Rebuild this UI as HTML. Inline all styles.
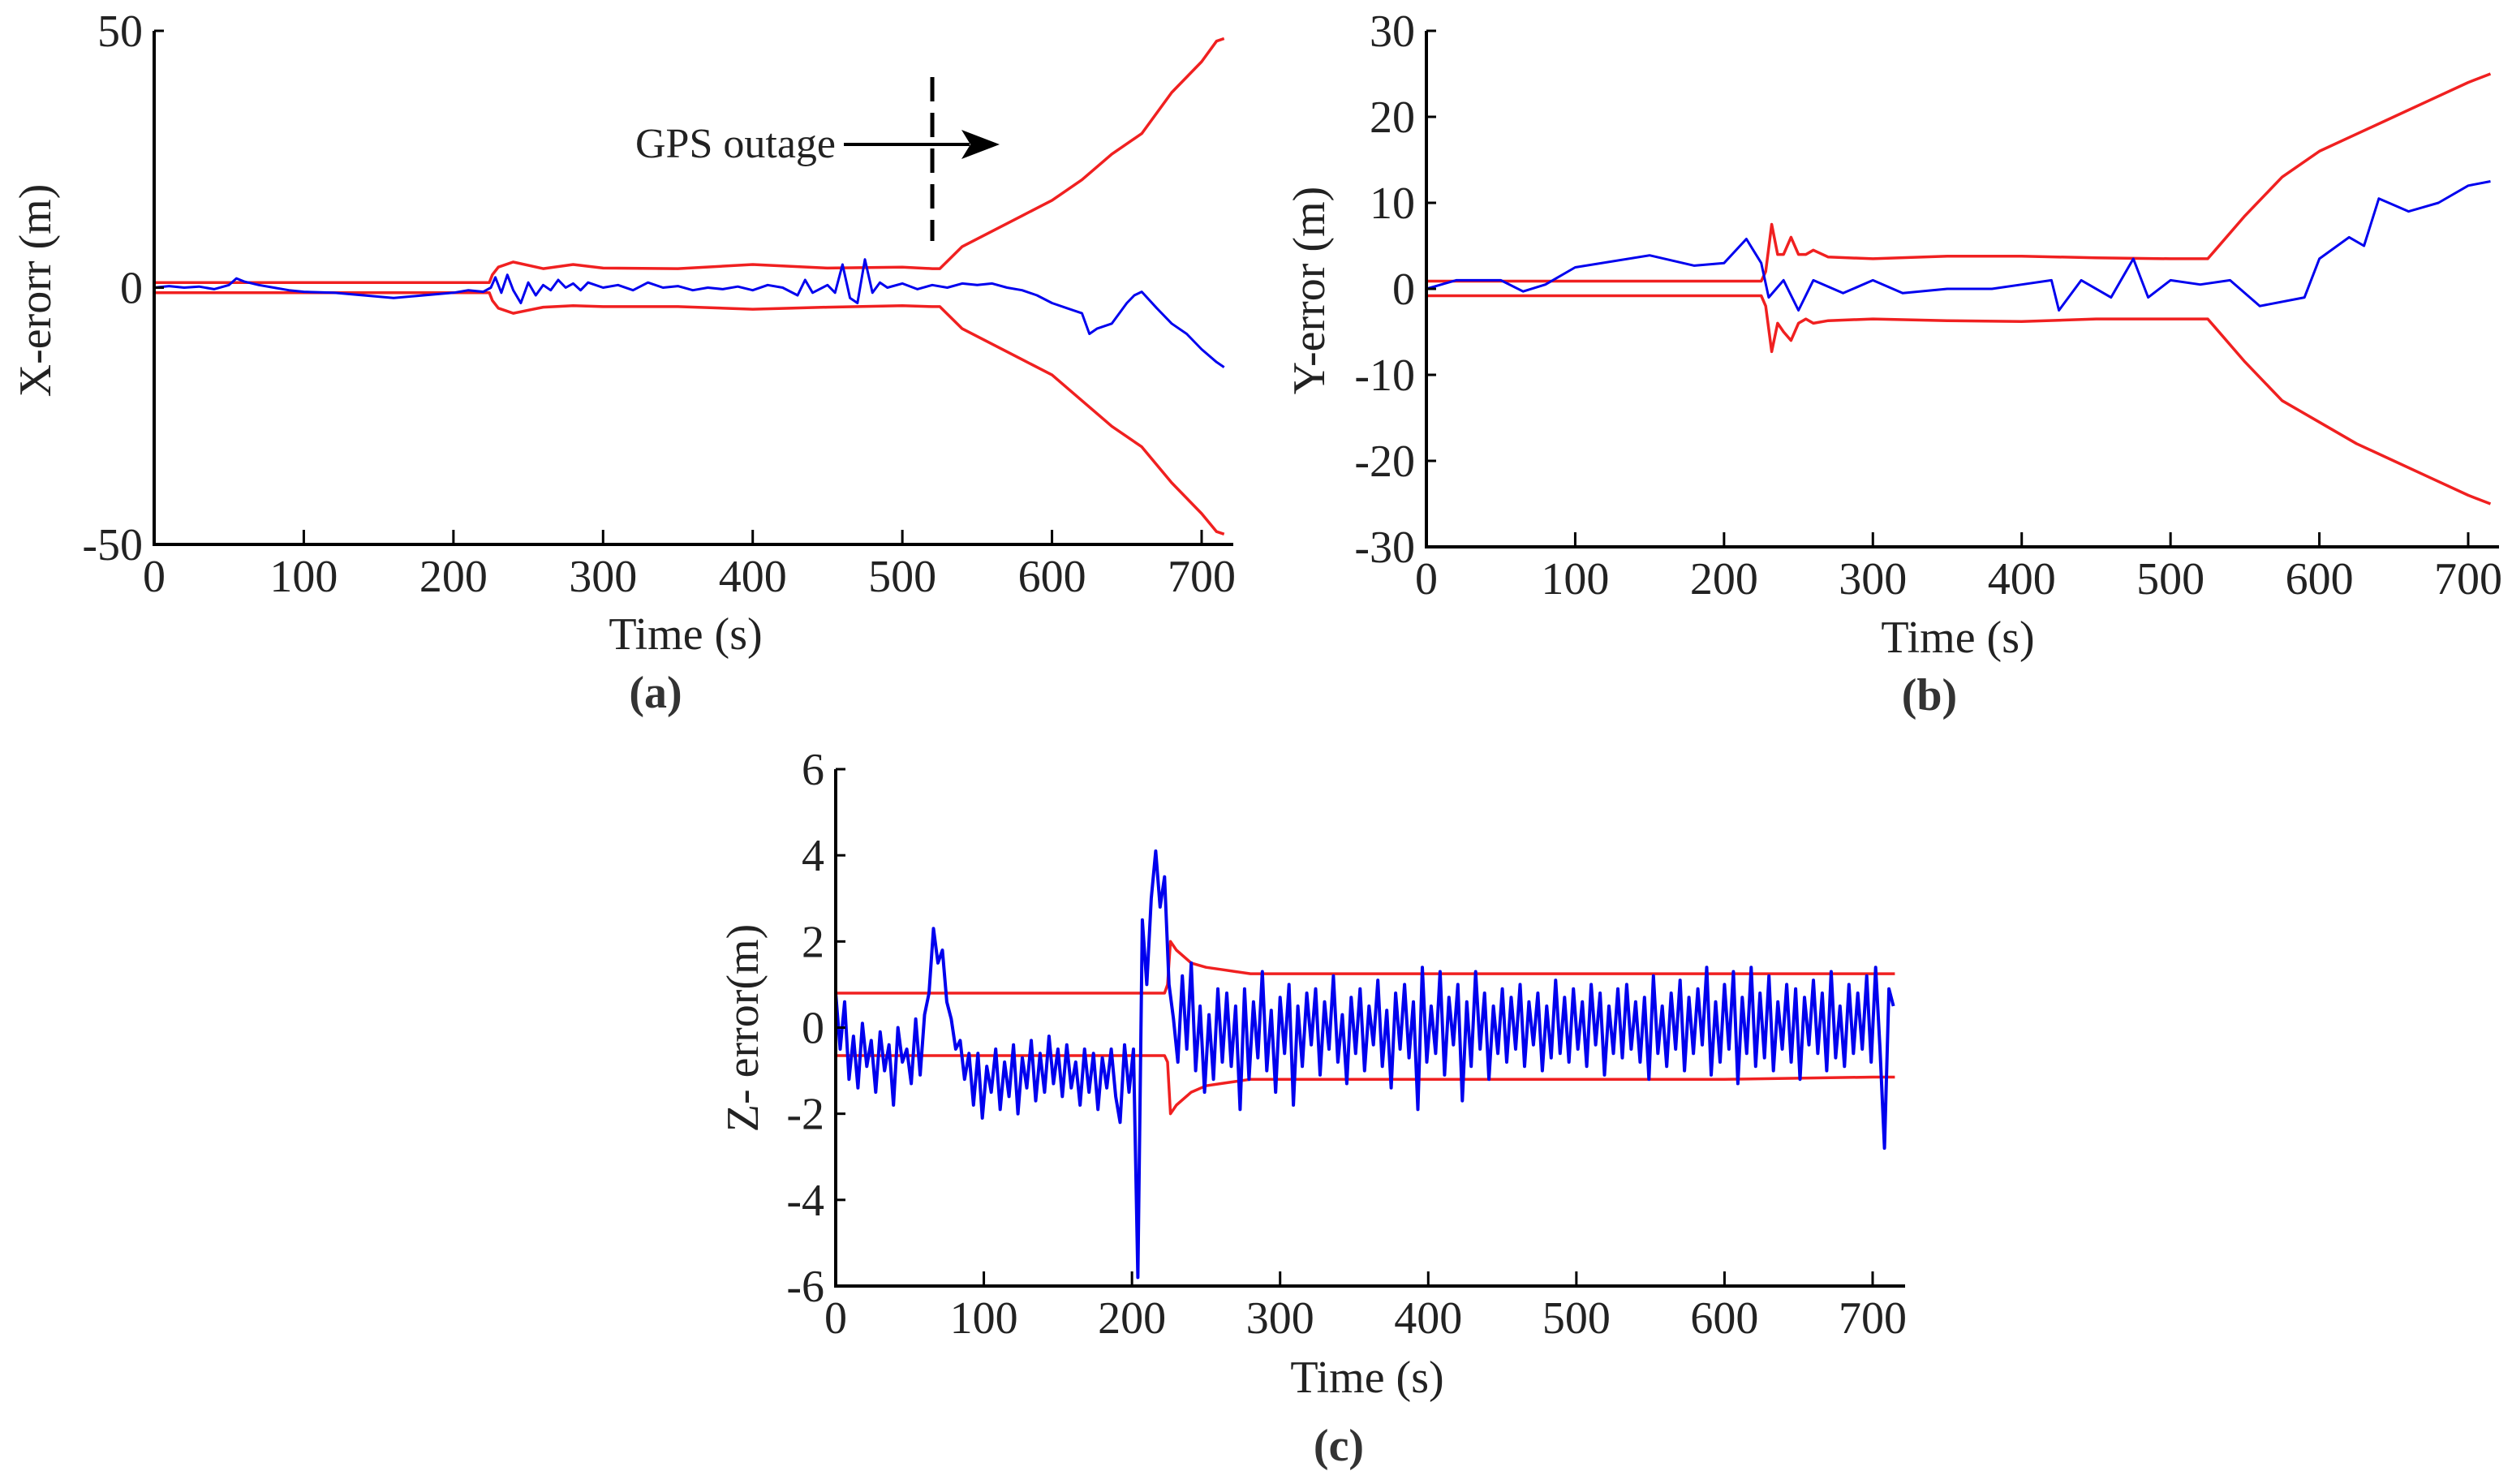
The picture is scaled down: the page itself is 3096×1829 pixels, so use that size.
<!DOCTYPE html>
<html><head><meta charset="utf-8"><style>
html,body{margin:0;padding:0;background:#fff;}
svg{display:block;font-family:"Liberation Serif",serif;}
</style></head><body>
<svg id="fig" width="3096" height="1829" viewBox="0 0 3096 1829" xmlns="http://www.w3.org/2000/svg"></svg>
<script>
// ---- Panel (a) X error ----
const aBlueT=[0,10,20,30,40,50,55,60,70,80,90,100,120,140,160,180,200,210,220,225,228,232,236,240,245,250,255,260,265,270,275,280,285,290,300,310,320,330,340,350,360,370,380,390,400,410,420,430,435,440,450,455,460,465,470,475,480,485,490,500,510,520,530,540,550,560,570,580,590,600,610,620,625,630,640,650,655,660,670,680,690,700,710,715];
const aBlue=[0,0.3,0,0.2,-0.3,0.5,1.8,1.2,0.5,0,-0.5,-0.8,-1,-1.5,-2,-1.5,-1,-0.5,-0.8,0,2,-1,2.5,-0.5,-3,1,-1.5,0.5,-0.5,1.5,0,0.8,-0.5,1,0,0.5,-0.5,1,0,0.3,-0.5,0,-0.3,0.2,-0.5,0.5,0,-1.5,1.5,-1,0.5,-1,4.5,-2,-3,5.5,-1,1,0,0.8,-0.3,0.5,0,0.8,0.5,0.8,0,-0.5,-1.5,-3,-4,-5,-9,-8,-7,-3,-1.5,-0.8,-4,-7,-9,-12,-14.5,-15.5];
const aBoundT=[0,224,226,230,240,260,280,300,350,400,450,500,520,525,540,560,580,600,620,640,660,680,700,710,715];
const aUpper=[1,1,2.5,4,5,3.7,4.5,3.8,3.7,4.5,3.8,4,3.7,3.7,8,11,14,17,21,26,30,38,44,48,48.5];
const aLower=[-1,-1,-2.5,-4,-5,-3.8,-3.5,-3.7,-3.7,-4.2,-3.8,-3.5,-3.7,-3.7,-8,-11,-14,-17,-22,-27,-31,-38,-44,-47.5,-48];
const aYTicks=[50,0,-50];
// ---- Panel (b) Y error ----
const bBlueT=[0,20,50,65,80,100,150,180,200,215,225,230,240,250,260,280,300,320,350,380,400,420,425,440,460,475,485,500,520,540,560,590,600,620,630,640,660,680,700,715];
const bBlue=[0,1,1,-0.3,0.5,2.5,3.9,2.7,3,5.8,3,-1,1,-2.5,1,-0.5,1,-0.5,0,0,0.5,1,-2.5,1,-1,3.5,-1,1,0.5,1,-2,-1,3.5,6,5,10.5,9,10,12,12.5];
const bBoundT=[0,225,228,232,236,240,245,250,255,260,270,300,350,400,450,500,525,530,550,575,600,625,650,675,700,715];
const bUpper=[0.9,0.9,2,7.5,4,4,6,4,4,4.5,3.7,3.5,3.8,3.8,3.6,3.5,3.5,4.5,8.5,13,16,18,20,22,24,25];
const bLower=[-0.8,-0.8,-2,-7.3,-4,-5,-6,-4,-3.5,-4,-3.7,-3.5,-3.7,-3.8,-3.5,-3.5,-3.5,-4.5,-8.5,-13,-15.5,-18,-20,-22,-24,-25];
const bYTicks=[30,20,10,0,-10,-20,-30];
// ---- Panel (c) Z error ----
const cStep=3;
const cBlue=[0.8,-0.5,0.6,
-1.2,-0.2,-1.4,0.1,-0.9,-0.3,-1.5,-0.1,-1.0,-0.4,-1.8,0.0,-0.8,-0.5,-1.3,0.2,-1.1,0.3,
0.8,2.3,1.5,1.8,0.6,
0.2,-0.5,-0.3,-1.2,-0.6,
-1.8,-0.6,-2.1,-0.9,-1.5,-0.5,-1.9,-0.8,-1.6,-0.4,-2.0,-0.7,-1.4,-0.3,-1.7,-0.6,-1.5,-0.2,-1.3,-0.5,-1.6,-0.4,-1.4,-0.8,-1.8,-0.5,-1.5,-0.6,-1.9,-0.7,-1.4,-0.5,-1.6,
-2.2,-0.4,-1.5,-0.5,
-5.8,2.5,1.0,3.0,4.1,2.8,3.5,1.0,0.2,-0.8,1.2,-0.5,1.5,-1.0,0.5,-1.5,0.3,-1.2,0.9,-0.8,
0.8,-0.9,0.5,-1.9,0.9,-1.2,0.6,-0.7,1.3,-1.0,0.4,-1.5,0.7,-0.6,1.0,-1.8,0.5,-0.9,0.8,-0.4,
0.9,-1.1,0.6,-0.5,1.2,-0.8,0.3,-1.3,0.7,-0.6,0.9,-1.0,0.5,-0.4,1.1,-0.9,0.4,-1.4,0.8,-0.5,
1.0,-0.7,0.6,-1.9,1.4,-0.8,0.5,-0.6,1.3,-1.1,0.7,-0.4,1.0,-1.7,0.6,-0.9,1.3,-0.5,0.8,-1.2,
0.5,-0.6,0.9,-0.8,0.7,-0.5,1.0,-0.9,0.6,-0.4,0.8,-1.0,0.5,-0.7,1.1,-0.6,0.7,-0.8,0.9,-0.5,
0.6,-0.9,1.0,-0.4,0.8,-1.1,0.5,-0.6,0.9,-0.7,1.0,-0.5,0.6,-0.8,0.7,-1.2,1.2,-0.6,0.5,-0.9,
0.8,-0.5,1.1,-1.0,0.7,-0.6,0.9,-0.4,1.4,-1.1,0.6,-0.8,1.0,-0.5,1.3,-1.3,0.7,-0.6,1.4,-0.9,
0.8,-0.7,1.2,-1.0,0.6,-0.5,1.0,-0.8,0.9,-1.2,0.7,-0.4,1.1,-0.6,0.8,-1.0,1.3,-0.7,0.5,-0.9,
1.0,-0.6,0.8,-0.5,1.2,-0.8,
1.4,-0.5,-2.8,0.9,0.5];
const cBoundT=[0,222,224,226,230,240,250,260,270,280,300,400,500,600,700,715];
const cUpper=[0.8,0.8,1,2,1.8,1.5,1.4,1.35,1.3,1.25,1.25,1.25,1.25,1.25,1.25,1.25];
const cLower=[-0.65,-0.65,-0.8,-2,-1.8,-1.5,-1.35,-1.3,-1.25,-1.2,-1.2,-1.2,-1.2,-1.2,-1.15,-1.15];
const cYTicks=[6,4,2,0,-2,-4,-6];
const xTicks=[0,100,200,300,400,500,600,700];

const NS="http://www.w3.org/2000/svg";
const svg=document.getElementById('fig');
function el(tag,attrs,parent,text){const e=document.createElementNS(NS,tag);for(const k in attrs)e.setAttribute(k,attrs[k]);if(text!==undefined)e.textContent=text;(parent||svg).appendChild(e);return e;}

function panel(p){
  const g=el('g',{});
  
  
  const sx=t=>p.x0+(t-0)*(p.x700-p.x0)/700;
  const sy=v=>p.yBot-(v-p.ymin)*(p.yBot-p.yTop)/(p.ymax-p.ymin);
  const line=(ts,vs,color,w,nm)=>{
    let d='';for(let i=0;i<vs.length;i++){d+=(i?'L':'M')+sx(ts[i]).toFixed(1)+' '+sy(vs[i]).toFixed(1);}
    const pth=el('path',{d:d,fill:'none',stroke:color,'stroke-width':w,'stroke-linejoin':'round'},g);
    
    
  };
  line(p.bT,p.up,'#f02020',3.5,'upper-bound-line');
  line(p.bT,p.lo,'#f02020',3.5,'lower-bound-line');
  line(p.blueT,p.blue,'#0000ee',p.bw||3,'error-line');
  const ax=el('path',{d:`M${p.x0} ${p.yTop}L${p.x0} ${p.yBot}L${p.xEnd} ${p.yBot}`,fill:'none',stroke:'#000','stroke-width':4},g);
  
  
  for(const t of xTicks){
    const x=sx(t);
    el('line',{x1:x,y1:p.yBot,x2:x,y2:p.yBot-18,stroke:'#000','stroke-width':3},g);
    const tx=el('text',{x:x,y:p.yBot+58,'font-size':56,'text-anchor':'middle',fill:'#222'},g,String(t));
    
    
  }
  for(const v of p.yTicks){
    const y=sy(v);
    el('line',{x1:p.x0,y1:y,x2:p.x0+12,y2:y,stroke:'#000','stroke-width':3},g);
    const ty=el('text',{x:p.x0-14,y:y+19,'font-size':56,'text-anchor':'end',fill:'#222'},g,String(v));
    
    
  }
  const xl=el('text',{x:p.xlx,y:p.xly,'font-size':56,'text-anchor':'middle',fill:'#222'},g,'Time (s)');
  
  
  const yl=el('text',{x:0,y:0,'font-size':56,'text-anchor':'middle',fill:'#222',transform:`translate(${p.ylx},${p.yly}) rotate(-90)`},g,p.ytitle);
  
  
  const cap=el('text',{x:p.capx,y:p.capy,'font-size':56,'font-weight':'bold','text-anchor':'middle',fill:'#333'},g,p.cap);
  
  
  return {g,sx,sy};
}

const A=panel({name:'panel-a-x-error',x0:190,x700:1481,xEnd:1520,yTop:38,yBot:671,ymin:-50,ymax:50,yTicks:aYTicks,
  blueT:aBlueT,blue:aBlue,bT:aBoundT,up:aUpper,lo:aLower,xlx:845,xly:800,ylx:62,yly:358,ytitle:'X-erorr (m)',capx:808,capy:872,cap:'(a)'});
panel({name:'panel-b-y-error',x0:1758,x700:3042,xEnd:3080,yTop:38,yBot:674,ymin:-30,ymax:30,yTicks:bYTicks,
  blueT:bBlueT,blue:bBlue,bT:bBoundT,up:bUpper,lo:bLower,xlx:2413,xly:804,ylx:1632,yly:358,ytitle:'Y-error (m)',capx:2378,capy:875,cap:'(b)'});
const cT=cBlue.map((v,i)=>i*cStep);
panel({name:'panel-c-z-error',x0:1030,x700:2308,xEnd:2348,yTop:948,yBot:1585,ymin:-6,ymax:6,yTicks:cYTicks,bw:4,
  blueT:cT,blue:cBlue,bT:cBoundT,up:cUpper,lo:cLower,xlx:1685,xly:1716,ylx:934,yly:1267,ytitle:'Z- error(m)',capx:1650,capy:1800,cap:'(c)'});

const ann=el('g',{});


el('text',{x:1030,y:194,'font-size':52,'text-anchor':'end',fill:'#222'},ann,'GPS outage');
el('line',{x1:1040,y1:178,x2:1195,y2:178,stroke:'#000','stroke-width':4},ann);
el('polygon',{points:'1232,178 1185,160 1196,178 1185,196',fill:'#000'},ann);
const ox=A.sx(520);
el('line',{x1:ox,y1:95,x2:ox,y2:297,stroke:'#000','stroke-width':5,'stroke-dasharray':'30,14'},ann);
</script>
</body></html>
